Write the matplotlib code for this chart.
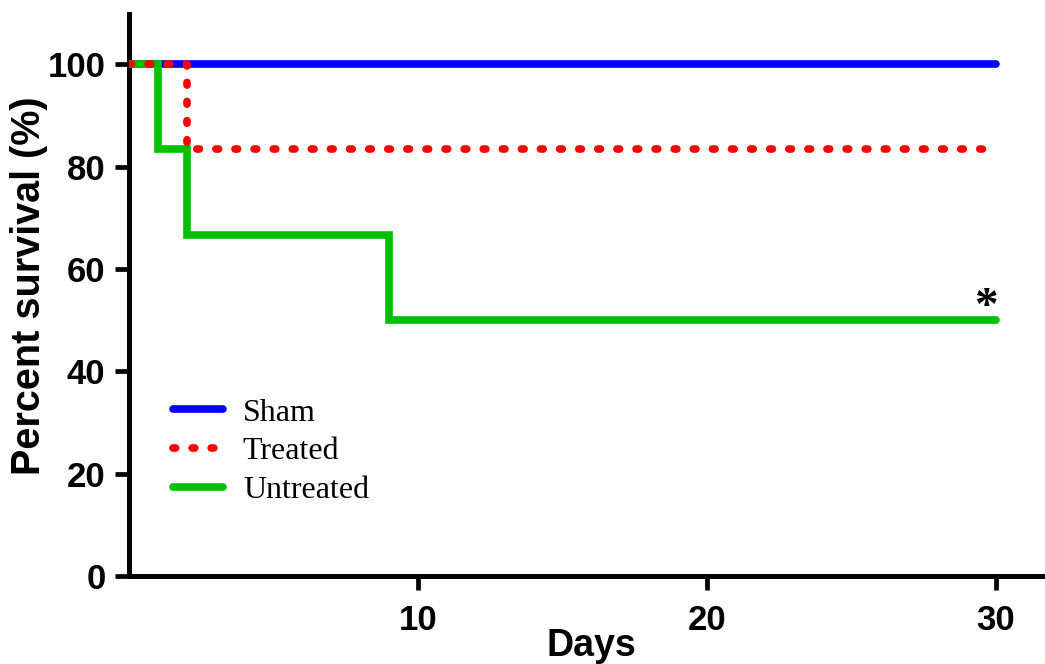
import matplotlib
matplotlib.use("Agg")
import matplotlib.pyplot as plt

# Kaplan-Meier style survival curves
sham_days = [0, 30]
sham_surv = [100, 100]
treated_days = [0, 2, 30]
treated_surv = [100, 83.33, 83.33]
untreated_days = [0, 1, 2, 9, 30]
untreated_surv = [100, 83.33, 66.67, 50, 50]

labels = ["Sham", "Treated", "Untreated"]
x_ticks = [10, 20, 30]
y_ticks = [0, 20, 40, 60, 80, 100]

fig = plt.figure(figsize=(10.45, 6.64), dpi=100)
ax = fig.add_axes([129 / 1045, 88 / 664, 916 / 1045, 562 / 664])

lw = 5.5
ax.plot(sham_days, sham_surv, drawstyle="steps-post", color="#0000ff",
        lw=lw, solid_capstyle="round", label=labels[0], zorder=3)
ax.plot(untreated_days, untreated_surv, drawstyle="steps-post", color="#00c000",
        lw=lw, solid_capstyle="round", solid_joinstyle="miter", zorder=4)
ax.plot(treated_days, treated_surv, drawstyle="steps-post", color="#ff0000",
        lw=lw, dashes=(0.35, 2.15), dash_capstyle="round", label=labels[1], zorder=5)
# dummy handle so legend order is Sham, Treated, Untreated
ax.plot([], [], color="#00c000", lw=lw, solid_capstyle="round", label=labels[2])

ax.text(29.65, 50.2, "*", fontsize=34, fontweight="bold", family="Liberation Serif",
        ha="center", va="baseline")

ax.set_xlim(0, 31.7)
ax.set_ylim(0, 109.8)
ax.set_xticks(x_ticks)
ax.set_yticks(y_ticks)

for side in ["top", "right"]:
    ax.spines[side].set_visible(False)
for side in ["left", "bottom"]:
    ax.spines[side].set_linewidth(3.6)
    ax.spines[side].set_capstyle("projecting")

ax.tick_params(axis="both", length=10, width=3.4, color="black")
ax.tick_params(axis="y", pad=7)
ax.tick_params(axis="x", pad=10)
for lab in ax.get_xticklabels() + ax.get_yticklabels():
    lab.set_fontfamily("Liberation Sans")
    lab.set_fontweight("bold")
    lab.set_fontsize(25)

ax.set_xlabel("Days", fontsize=27, fontweight="bold", family="Liberation Sans")
ax.set_ylabel("Percent survival (%)", fontsize=28.5, fontweight="bold",
              family="Liberation Sans")
ax.xaxis.set_label_coords(0.505, -0.093)
ax.yaxis.set_label_coords(-0.088, 0.516)

leg = ax.legend(loc="center left", bbox_to_anchor=(0.048, 0.221), frameon=False,
                prop={"family": "Liberation Serif", "size": 23},
                handlelength=1.56, handletextpad=0.63, labelspacing=0.3,
                borderpad=0, borderaxespad=0)

fig.savefig("out.png", dpi=100)
